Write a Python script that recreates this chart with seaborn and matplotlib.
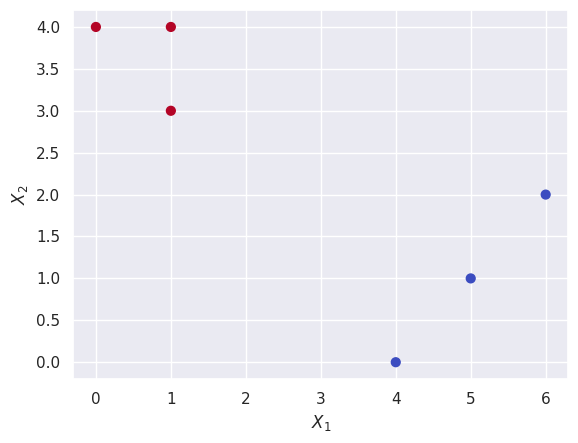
import matplotlib
matplotlib.use("Agg")
import matplotlib.pyplot as plt
import seaborn as sns
import pandas as pd

sns.set_theme()

x1 = [0, 1, 1, 4, 5, 6]
x2 = [4, 4, 3, 0, 1, 2]
label = [1, 1, 1, 0, 0, 0]

df = pd.DataFrame({"x1": x1, "x2": x2, "y": label})

fig, ax = plt.subplots(figsize=(5.78, 4.43), dpi=100)
ax.scatter(df["x1"], df["x2"], c=df["y"], cmap="coolwarm", s=40)
ax.set_xlabel("$X_1$")
ax.set_ylabel("$X_2$")
ax.set_yticks([0, 0.5, 1, 1.5, 2, 2.5, 3, 3.5, 4])
fig.subplots_adjust(left=0.127, right=0.983, top=0.977, bottom=0.1445)
fig.savefig("out.png", dpi=100)
